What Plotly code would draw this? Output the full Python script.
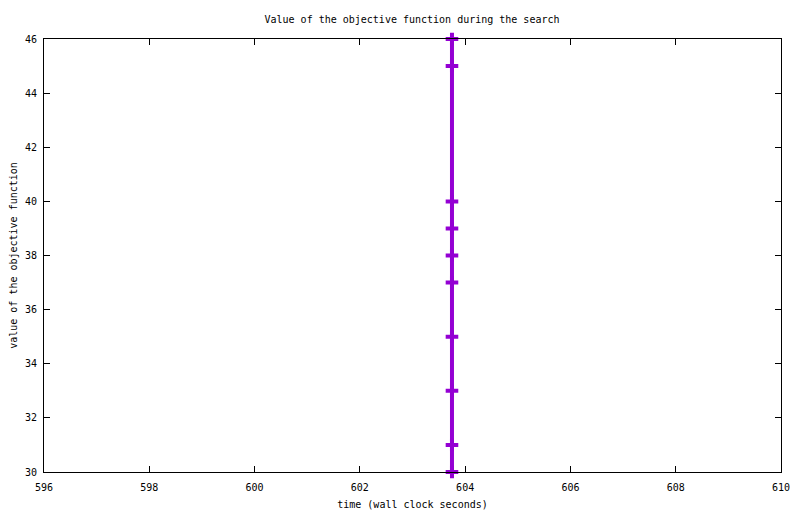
import plotly.graph_objects as go

times = [603.75, 603.75, 603.75, 603.75, 603.75, 603.75, 603.75, 603.75, 603.75, 603.75]
values = [30, 31, 33, 35, 37, 38, 39, 40, 45, 46]
x_ticks = [596, 598, 600, 602, 604, 606, 608, 610]
y_ticks = [30, 32, 34, 36, 38, 40, 42, 44, 46]

color = "#9400d3"
font = dict(family="DejaVu Sans Mono", size=10, color="black")

fig = go.Figure()
fig.add_trace(go.Scatter(
    x=times, y=values, mode="lines+markers",
    line=dict(color=color, width=4),
    marker=dict(symbol="cross-thin", size=9, line=dict(color=color, width=4)),
    cliponaxis=False, showlegend=False,
))

axis_common = dict(
    showgrid=False, zeroline=False, showline=True, linecolor="black", linewidth=1,
    mirror="ticks", ticks="inside", ticklen=6, tickcolor="black", tickwidth=1,
    tickfont=font, automargin=False,
)
# page body has an 8px default margin; compensate so the plot area lands where the reference has it
fig.update_layout(
    width=800, height=514,
    margin=dict(l=36, r=27, t=31, b=50),
    paper_bgcolor="white", plot_bgcolor="white",
    font=font,
    title=dict(text="Value of the objective function during the search", x=0.505, xanchor="center",
               y=1 - 11 / 514, yanchor="middle", font=font),
    xaxis=dict(range=[596, 610], tickvals=x_ticks, ticklabelstandoff=6, **axis_common,
               title=dict(text="time (wall clock seconds)", font=font, standoff=8)),
    yaxis=dict(range=[30, 46], tickvals=y_ticks, ticklabelstandoff=4, **axis_common,
               title=dict(text="value of the objective function", font=font, standoff=11)),
)
fig.write_html("out.html")
